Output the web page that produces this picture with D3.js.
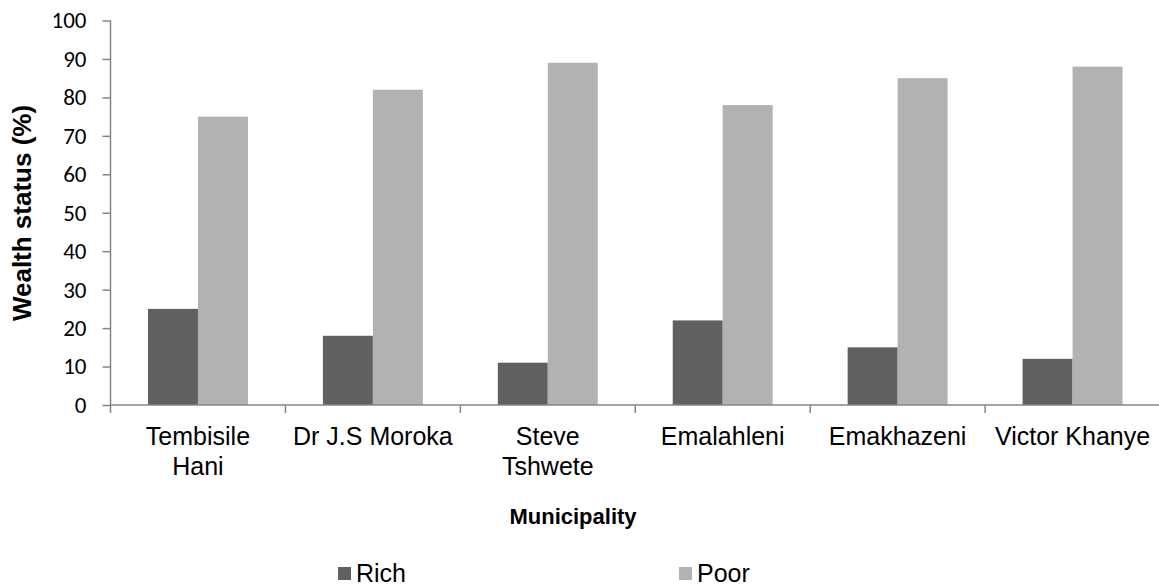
<!DOCTYPE html>
<html>
<head>
<meta charset="utf-8">
<script src="https://cdn.jsdelivr.net/npm/d3@7/dist/d3.min.js"></script>
<style>
  html, body { margin: 0; padding: 0; background: #fff; }
  svg { display: block; }
</style>
</head>
<body>
<svg id="chart" width="1159" height="588"></svg>
<script>
// Wealth status by municipality
const municipalities = ["Tembisile Hani", "Dr J.S Moroka", "Steve Tshwete", "Emalahleni", "Emakhazeni", "Victor Khanye"];
const labelLines = [["Tembisile", "Hani"], ["Dr J.S Moroka"], ["Steve", "Tshwete"], ["Emalahleni"], ["Emakhazeni"], ["Victor Khanye"]];
const richValues = [25, 18, 11, 22, 15, 12];
const poorValues = [75, 82, 89, 78, 85, 88];
const seriesNames = ["Rich", "Poor"];
const seriesColors = ["#606060", "#b2b2b2"];
const yTicks = [0, 10, 20, 30, 40, 50, 60, 70, 80, 90, 100];

const svg = d3.select("#chart");
const plot = { left: 110.5, right: 1160, top: 20.5, bottom: 405 };
const axisColor = "#868686";

const x = d3.scaleBand().domain(municipalities).range([plot.left, plot.right]).paddingInner(0).paddingOuter(0);
const inner = d3.scaleBand().domain(seriesNames).range([0, x.bandwidth()]).paddingInner(0).paddingOuter(0.75);
const y = d3.scaleLinear().domain([0, 100]).range([plot.bottom, plot.top]);

const rows = municipalities.map((m, i) => ({ name: m, values: [richValues[i], poorValues[i]] }));

// Bars
const groups = svg.append("g").selectAll("g").data(rows).join("g")
  .attr("transform", d => `translate(${x(d.name)},0)`);
groups.selectAll("rect").data(d => d.values.map((v, j) => ({ key: seriesNames[j], v, j })))
  .join("rect")
  .attr("x", d => inner(d.key))
  .attr("width", inner.bandwidth())
  .attr("y", d => y(d.v))
  .attr("height", d => y(0) - y(d.v))
  .attr("fill", d => seriesColors[d.j]);

// Y axis
const yAxis = svg.append("g").attr("transform", `translate(${plot.left},0)`)
  .call(d3.axisLeft(y).tickValues(yTicks).tickSize(8).tickPadding(16).tickFormat(d3.format("d")));
yAxis.select(".domain").attr("stroke", axisColor).attr("stroke-width", 1.5).attr("d", `M0,${plot.top}V${plot.bottom + 8}`);
yAxis.selectAll(".tick line").attr("stroke", axisColor).attr("stroke-width", 1.5);
yAxis.selectAll(".tick text")
  .attr("font-family", "Carlito, Lato, sans-serif").attr("font-size", 23).attr("fill", "#000");

// X axis with tick marks at category boundaries
const xAxisG = svg.append("g").attr("transform", `translate(0,${plot.bottom})`);
xAxisG.append("line").attr("x1", plot.left).attr("x2", plot.right).attr("stroke", axisColor).attr("stroke-width", 1.5);
xAxisG.selectAll("line.bound").data(municipalities.slice(1)).join("line").attr("class", "bound")
  .attr("x1", d => x(d)).attr("x2", d => x(d)).attr("y1", 0).attr("y2", 8)
  .attr("stroke", axisColor).attr("stroke-width", 1.5);

// Category labels
const catText = svg.append("g").selectAll("text").data(municipalities).join("text")
  .attr("text-anchor", "middle")
  .attr("font-family", "Liberation Sans, Arial, sans-serif").attr("font-size", 25).attr("fill", "#000")
  .attr("transform", d => `translate(${x(d) + x.bandwidth() / 2},445)`);
catText.selectAll("tspan").data((d, i) => labelLines[i]).join("tspan")
  .attr("x", 0).attr("dy", (d, i) => i === 0 ? 0 : 30).text(d => d);

// Axis titles
svg.append("text").attr("x", 573).attr("y", 524).attr("text-anchor", "middle")
  .attr("font-family", "Liberation Sans, Arial, sans-serif").attr("font-weight", "bold").attr("font-size", 22)
  .text("Municipality");
svg.append("text").attr("transform", "translate(31,213) rotate(-90)").attr("text-anchor", "middle")
  .attr("font-family", "Liberation Sans, Arial, sans-serif").attr("font-weight", "bold").attr("font-size", 26)
  .text("Wealth status (%)");

// Legend
const legendX = [338, 679];
const legend = svg.append("g").selectAll("g").data(seriesNames).join("g")
  .attr("transform", (d, i) => `translate(${legendX[i]},567)`);
legend.append("rect").attr("width", 13).attr("height", 13).attr("fill", (d, i) => seriesColors[i]);
legend.append("text").attr("x", 18).attr("y", 15)
  .attr("font-family", "Liberation Sans, Arial, sans-serif").attr("font-size", 25).attr("fill", "#000")
  .text(d => d);
</script>
</body>
</html>
